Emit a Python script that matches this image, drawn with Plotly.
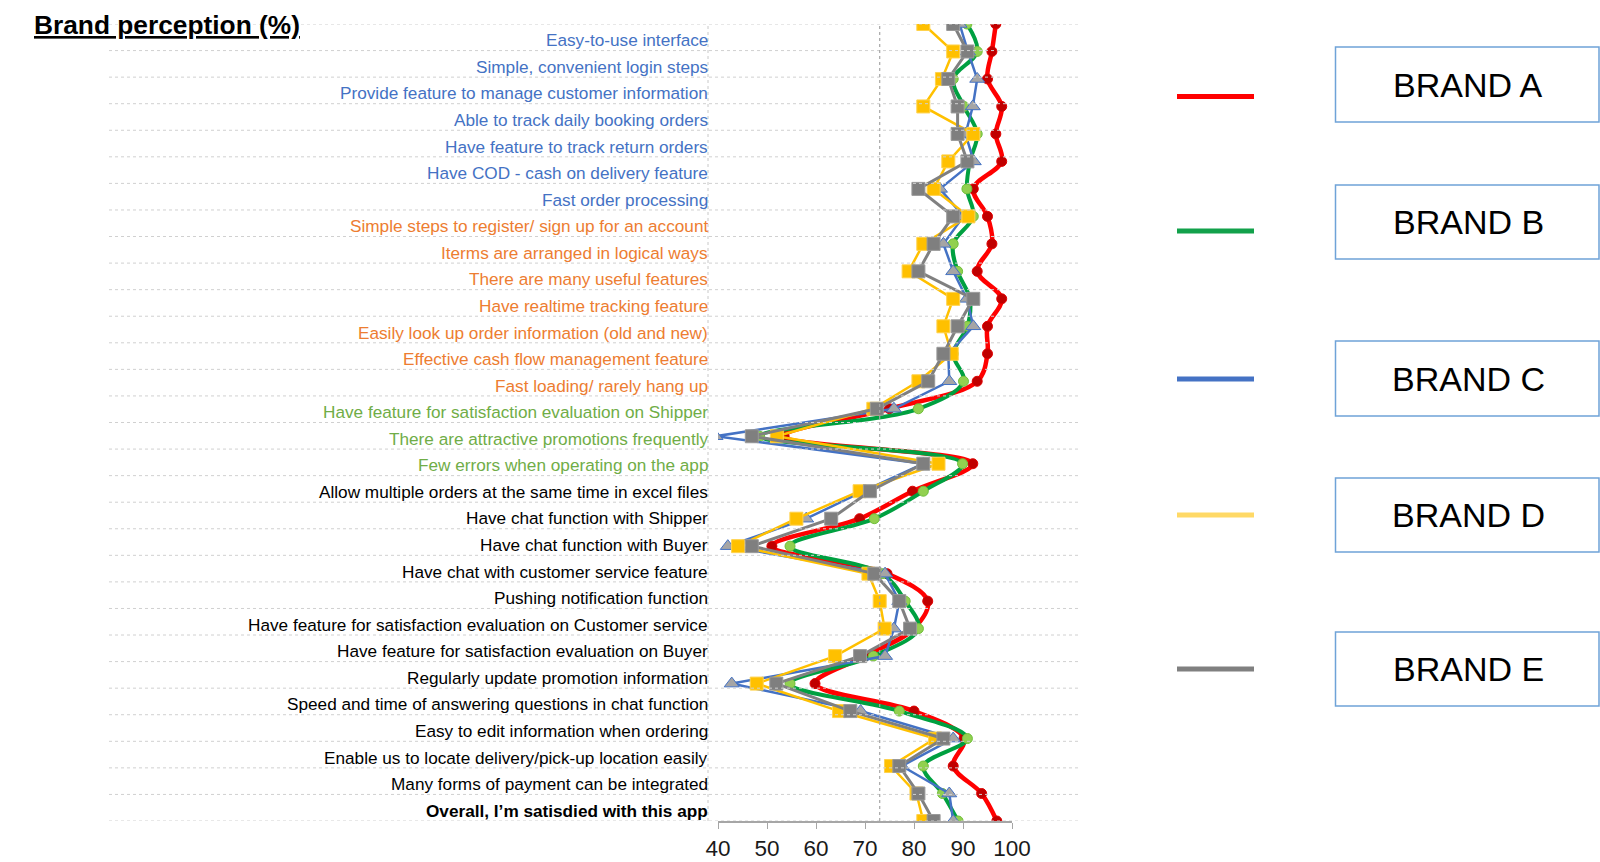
import plotly.graph_objects as go

# ---------------- data ----------------
categories = [
    "Easy-to-use interface",
    "Simple, convenient login steps",
    "Provide feature to manage customer information",
    "Able to track daily booking orders",
    "Have feature to track return orders",
    "Have COD - cash on delivery feature",
    "Fast order processing",
    "Simple steps to register/ sign up for an account",
    "Iterms are arranged in logical ways",
    "There are many useful features",
    "Have realtime tracking feature",
    "Easily look up order information (old and new)",
    "Effective cash flow management feature",
    "Fast loading/ rarely hang up",
    "Have feature for satisfaction evaluation on Shipper",
    "There are attractive promotions frequently",
    "Few errors when operating on the app",
    "Allow multiple orders at the same time in excel files",
    "Have chat function with Shipper",
    "Have chat function with Buyer",
    "Have chat with customer service feature",
    "Pushing notification function",
    "Have feature for satisfaction evaluation on Customer service",
    "Have feature for satisfaction evaluation on Buyer",
    "Regularly update promotion information",
    "Speed and time of answering questions in chat function",
    "Easy to edit information when ordering",
    "Enable us to locate delivery/pick-up location easily",
    "Many forms of payment can be integrated",
    "Overall, I\u2019m satisdied with this app",
]
label_groups = ["blue"] * 7 + ["orange"] * 7 + ["green"] * 3 + ["black"] * 13

brand_a = [96.7, 95.9, 95.0, 97.9, 96.7, 97.9, 92.1, 95.0, 95.9, 92.9,
           97.9, 95.0, 95.0, 92.9, 75.0, 53.5, 92.0, 79.7, 68.9, 51.0,
           74.5, 82.8, 80.0, 70.0, 59.8, 80.0, 90.2, 88.0, 93.8, 96.9]
brand_b = [90.8, 92.9, 88.0, 90.2, 92.9, 91.4, 90.8, 92.1, 88.0, 88.9,
           91.4, 90.9, 88.0, 90.1, 80.9, 48.5, 89.9, 81.9, 71.9, 54.7,
           73.5, 78.2, 80.9, 71.7, 54.7, 77.0, 90.9, 81.9, 85.8, 89.0]
brand_c = [89.3, 91.0, 92.9, 92.0, 90.5, 92.2, 85.3, 90.1, 86.0, 88.0,
           90.8, 92.1, 87.0, 87.2, 75.9, 39.5, 81.9, 69.7, 58.0, 42.0,
           74.1, 77.0, 75.9, 74.1, 42.8, 69.1, 88.0, 77.5, 87.2, 88.0]
brand_d = [81.9, 88.0, 85.7, 81.9, 92.1, 87.0, 84.0, 91.1, 81.9, 78.9,
           88.0, 86.0, 87.7, 80.9, 71.7, 52.0, 85.0, 68.9, 56.0, 44.1,
           70.7, 73.0, 74.0, 63.9, 47.9, 64.7, 84.3, 75.3, 80.5, 81.9]
brand_e = [88.0, 90.9, 87.0, 88.9, 88.9, 90.9, 80.9, 88.0, 84.0, 80.9,
           92.1, 88.9, 86.0, 82.9, 72.4, 46.9, 81.9, 71.0, 63.1, 46.9,
           71.9, 77.0, 79.2, 69.0, 51.9, 67.0, 86.0, 77.0, 80.9, 84.0]

brand_names = ["BRAND A", "BRAND B", "BRAND C", "BRAND D", "BRAND E"]
x_ticks = [40, 50, 60, 70, 80, 90, 100]
reference_value = 73

# ---------------- layout geometry (page pixels) ----------------
W, H = 1600, 862
PL, PR, PT, PB = 718, 1012, 24, 821   # plot area on the page
FONT = "Arial, Liberation Sans, sans-serif"
label_colors = {"blue": "#4472C4", "orange": "#ED7D31", "green": "#70AD47", "black": "#000000"}

def px2x(px):
    return (px - PL) / (PR - PL)

def py2y(py):
    return (PB - py) / (PB - PT)

styles = [
    dict(line=dict(color="#FF0000", width=4.5, shape="spline", smoothing=1.0),
         marker=dict(symbol="circle", size=10, color="#C00000", line=dict(color="#E00000", width=1))),
    dict(line=dict(color="#00A040", width=4, shape="spline", smoothing=1.0),
         marker=dict(symbol="circle", size=10, color="#92D050", line=dict(color="#6FBF3A", width=1))),
    dict(line=dict(color="#4472C4", width=2.5),
         marker=dict(symbol="triangle-up", size=13, color="#A5A5A5", line=dict(color="#4472C4", width=1))),
    dict(line=dict(color="#FFC000", width=2.5),
         marker=dict(symbol="square", size=13, color="#FFC000", line=dict(color="#FFD24D", width=1))),
    dict(line=dict(color="#808080", width=3),
         marker=dict(symbol="square", size=13, color="#7F7F7F", line=dict(color="#9A9A9A", width=1))),
]
legend_colors = ["#FF0000", "#12A14B", "#4472C4", "#FFD966", "#808080"]

fig = go.Figure()
rows = list(range(len(categories)))
for name, vals, st in zip(brand_names, [brand_a, brand_b, brand_c, brand_d, brand_e], styles):
    fig.add_trace(go.Scatter(x=vals, y=rows, mode="lines+markers", name=name,
                             line=st["line"], marker=st["marker"], showlegend=False,
                             cliponaxis=True))

shapes = []
# horizontal dotted gridlines (band boundaries on the label axis)
for k in range(len(categories) + 1):
    shapes.append(dict(type="line", xref="paper", yref="y2",
                       x0=px2x(109), x1=px2x(1079), y0=k, y1=k,
                       line=dict(color="#D0D0D0", width=1, dash="dot")))
# vertical dotted line separating labels from the chart
shapes.append(dict(type="line", xref="paper", yref="paper",
                   x0=px2x(708), x1=px2x(708), y0=0, y1=py2y(23),
                   line=dict(color="#C8C8C8", width=1, dash="dot")))
# reference line
shapes.append(dict(type="line", xref="x", yref="paper",
                   x0=reference_value, x1=reference_value, y0=0, y1=1,
                   line=dict(color="#A6A6A6", width=1.2, dash="dot")))

annotations = []
for i, (txt, grp) in enumerate(zip(categories, label_groups)):
    t = "<b>" + txt + "</b>" if i == len(categories) - 1 else txt
    annotations.append(dict(text=t, xref="paper", yref="y2", x=px2x(710), y=i + 0.5,
                            xanchor="right", yanchor="middle", showarrow=False, yshift=-3,
                            font=dict(family=FONT, size=17.2, color=label_colors[grp])))

# title
annotations.append(dict(text="<b><u>Brand perception (%)</u></b>", xref="paper", yref="paper",
                        x=px2x(32), y=py2y(25), xanchor="left", yanchor="middle", showarrow=False,
                        font=dict(family=FONT, size=26.3, color="#000000")))

# custom legend
legend_line_y = [96.5, 231, 379, 515, 669]
box_y = [(47, 122), (185, 259), (341, 416), (478, 552), (632, 706)]
for name, col, ly, (b0, b1) in zip(brand_names, legend_colors, legend_line_y, box_y):
    shapes.append(dict(type="line", xref="paper", yref="paper",
                       x0=px2x(1177), x1=px2x(1254), y0=py2y(ly), y1=py2y(ly),
                       line=dict(color=col, width=5)))
    shapes.append(dict(type="rect", xref="paper", yref="paper",
                       x0=px2x(1335.5), x1=px2x(1599), y0=py2y(b1), y1=py2y(b0),
                       line=dict(color="#6FA3D8", width=1.5), fillcolor="rgba(0,0,0,0)"))
    annotations.append(dict(text=name, xref="paper", yref="paper",
                            x=px2x(1468), y=py2y((b0 + b1) / 2), xanchor="center", yanchor="middle",
                            showarrow=False, font=dict(family=FONT, size=34, color="#000000")))

fig.update_layout(
    width=W, height=H,
    margin=dict(l=PL, r=W - PR, t=PT, b=H - PB, pad=0, autoexpand=False),
    paper_bgcolor="white", plot_bgcolor="white",
    showlegend=False,
    xaxis=dict(range=[40, 100], tickvals=x_ticks, showgrid=False, zeroline=False,
               showline=True, linecolor="#A6A6A6", linewidth=1.5, automargin=False,
               ticks="outside", ticklen=6, tickcolor="#A6A6A6", tickwidth=1,
               ticklabelstandoff=0,
               tickfont=dict(family=FONT, size=22.5, color="#1A1A1A")),
    yaxis=dict(range=[len(categories) - 1, 0], showgrid=False, zeroline=False,
               showticklabels=False, ticks="", showline=False, automargin=False),
    yaxis2=dict(range=[len(categories), 0], overlaying="y", visible=False,
                showgrid=False, zeroline=False),
    shapes=shapes,
    annotations=annotations,
)

fig.write_html("out.html",
               config={"displayModeBar": False},
               post_script="document.body.style.margin='0';document.body.style.overflow='hidden';")
